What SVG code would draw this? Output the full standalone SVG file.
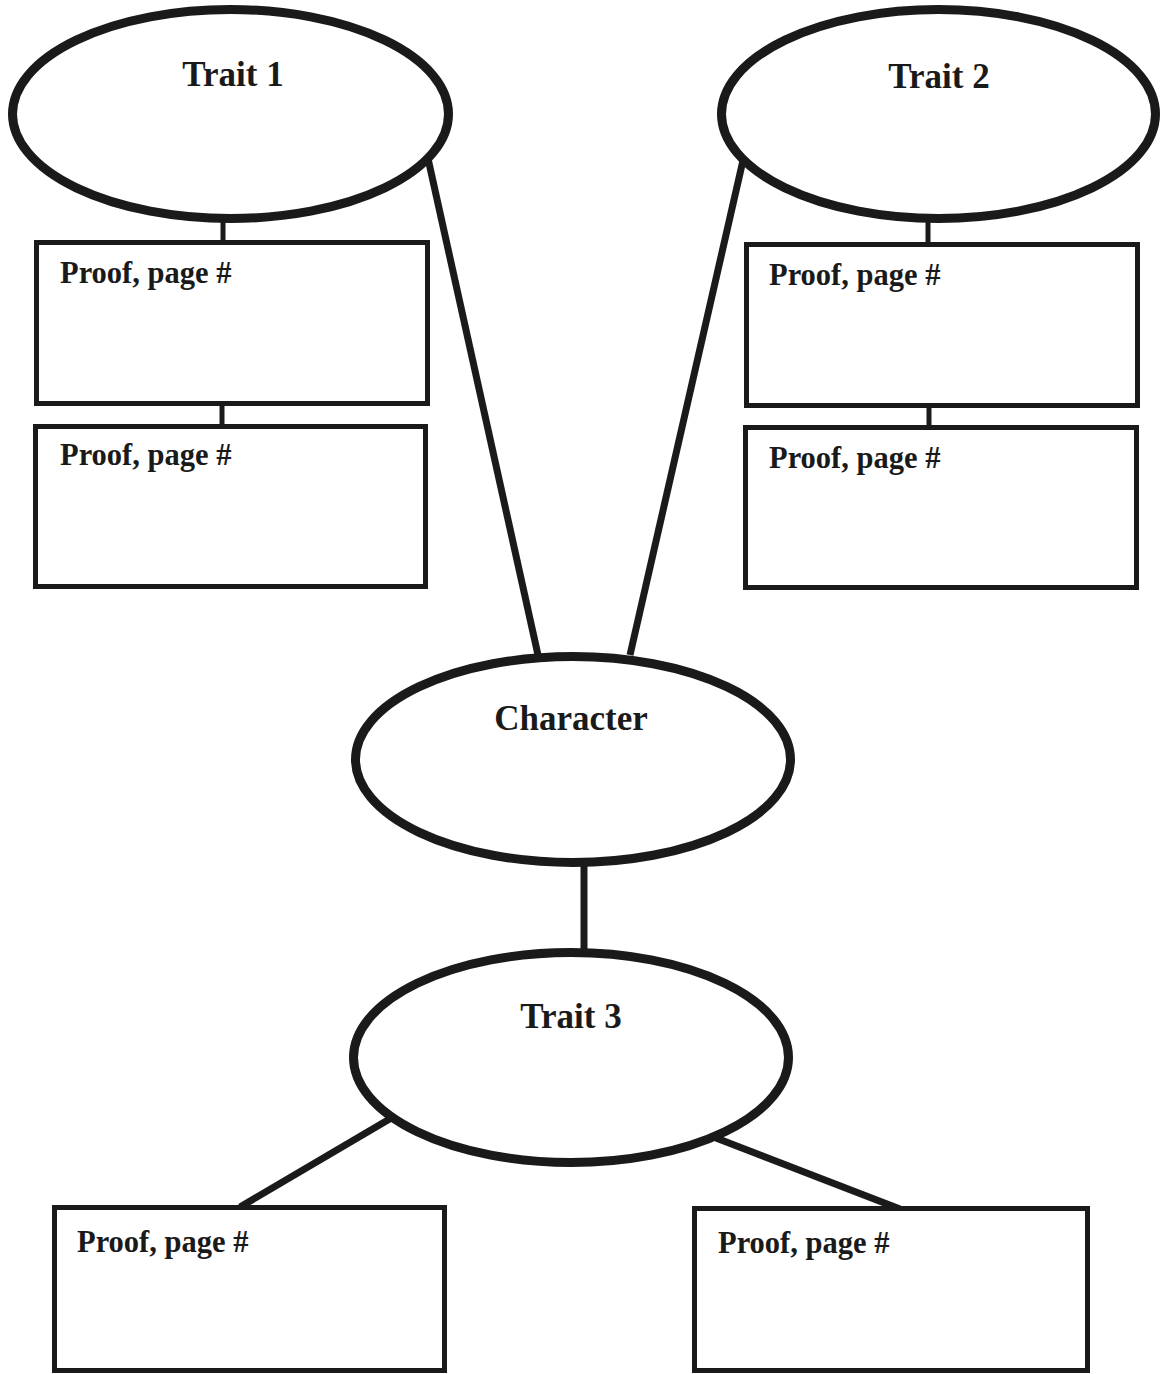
<svg xmlns="http://www.w3.org/2000/svg" width="1161" height="1374" viewBox="0 0 1161 1374">
<style>
.ell{fill:#fff;stroke:#1a1a1a;stroke-width:9}
.box{fill:#fff;stroke:#1a1a1a;stroke-width:5}
.title{font-family:"Liberation Serif","Times New Roman",serif;font-weight:bold;font-size:35px;fill:#1a1a1a;text-anchor:middle}
.lbl{font-family:"Liberation Serif","Times New Roman",serif;font-weight:bold;font-size:30.5px;fill:#1a1a1a}
.thin{stroke:#1a1a1a;stroke-width:5;fill:none}
.thick{stroke:#1a1a1a;stroke-width:7;fill:none}
</style>
<rect width="1161" height="1374" fill="#fff"/>
<g id="connectors">
<line class="thin" x1="223" y1="220" x2="223" y2="243"/>
<line class="thin" x1="222" y1="404" x2="222" y2="427"/>
<line class="thin" x1="928" y1="220" x2="928" y2="245"/>
<line class="thin" x1="929" y1="406" x2="929" y2="428"/>
<line class="thick" x1="427" y1="154" x2="538" y2="655"/>
<line class="thick" x1="744" y1="156" x2="630" y2="655"/>
<line class="thick" x1="584" y1="864" x2="584" y2="951"/>
<line class="thick" stroke-width="6" x1="393" y1="1117" x2="240" y2="1207"/>
<line class="thick" stroke-width="6" x1="716" y1="1138" x2="900" y2="1209"/>
</g>
<g id="trait1">
<ellipse class="ell" cx="230.5" cy="114" rx="218" ry="104.5"/>
<text class="title" x="233" y="86">Trait 1</text>
</g>
<g id="trait2">
<ellipse class="ell" cx="938.5" cy="114" rx="217" ry="104.5"/>
<text class="title" x="939" y="88">Trait 2</text>
</g>
<g id="character">
<ellipse class="ell" cx="573" cy="759.5" rx="217.5" ry="103"/>
<text class="title" x="571" y="730">Character</text>
</g>
<g id="trait3">
<ellipse class="ell" cx="571" cy="1057.5" rx="217.5" ry="105"/>
<text class="title" x="571" y="1028">Trait 3</text>
</g>
<g id="proof1a">
<rect class="box" x="36.5" y="242.5" width="391" height="161"/>
<text class="lbl" x="60" y="283">Proof, page #</text>
</g>
<g id="proof1b">
<rect class="box" x="35.5" y="426.5" width="390" height="160"/>
<text class="lbl" x="60" y="465">Proof, page #</text>
</g>
<g id="proof2a">
<rect class="box" x="746.5" y="244.5" width="391" height="161"/>
<text class="lbl" x="769" y="285">Proof, page #</text>
</g>
<g id="proof2b">
<rect class="box" x="745.5" y="427.5" width="391" height="160"/>
<text class="lbl" x="769" y="468">Proof, page #</text>
</g>
<g id="proof3a">
<rect class="box" x="54.5" y="1207.5" width="390" height="163"/>
<text class="lbl" x="77" y="1252">Proof, page #</text>
</g>
<g id="proof3b">
<rect class="box" x="694.5" y="1208.5" width="393" height="162"/>
<text class="lbl" x="718" y="1253">Proof, page #</text>
</g>
</svg>
